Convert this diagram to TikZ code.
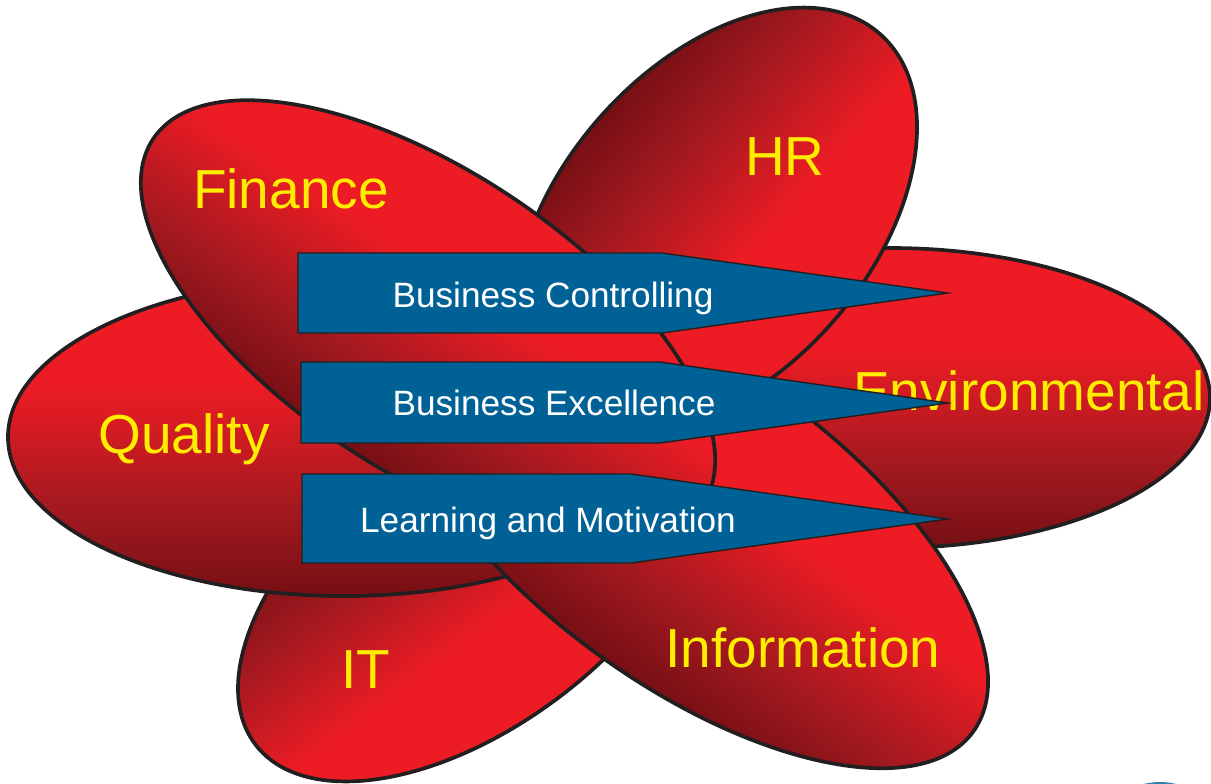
\documentclass[tikz,border=0pt]{standalone}
\usepackage{fontspec}
\setmainfont{Liberation Sans}
\usepackage{tikz}

\definecolor{petalred}{RGB}{237,28,36}
\definecolor{petalmid}{RGB}{160,25,31}
\definecolor{petaldark}{RGB}{118,15,20}
\definecolor{rimgray}{RGB}{35,31,32}
\definecolor{bannerblue}{RGB}{0,97,151}
\definecolor{labelyellow}{RGB}{255,237,0}

\pgfdeclareverticalshading{petalshade}{100bp}{color(0bp)=(petaldark); color(25bp)=(petaldark); color(38bp)=(petalmid); color(58bp)=(petalred); color(100bp)=(petalred)}

\tikzset{
    petal/.style={draw=rimgray, line width=1.85pt, shading=petalshade},
    banner/.style={draw=rimgray, line width=0.7pt, fill=bannerblue, line join=miter},
    label_yellow/.style={text=labelyellow, font=\fontsize{27.5}{30}\selectfont, anchor=base, inner sep=0pt},
    label_white/.style={text=white, font=\fontsize{17.6}{20}\selectfont, anchor=base, inner sep=0pt}
}

\begin{document}
\begin{tikzpicture}[x=0.5pt, y=-0.5pt]
	\useasboundingbox (0,0) rectangle (1211,783);

	\begin{scope}[transform canvas={shift={(472,580)}, rotate=217.2}]
		\shade[petal] (0,0) ellipse (272 and 146);
	\end{scope}
	\begin{scope}[transform canvas={shift={(890,398)}}]
		\shade[petal] (0,0) ellipse (320 and 150);
	\end{scope}
	\begin{scope}[transform canvas={shift={(344,437)}}]
		\shade[petal] (0,0) ellipse (336 and 159);
	\end{scope}
	\begin{scope}[transform canvas={shift={(690,526)}, rotate=-36}]
		\shade[petal] (0,0) ellipse (350 and 158);
	\end{scope}
	\begin{scope}[transform canvas={shift={(716,220)}, rotate=228.6}]
		\shade[petal] (0,0) ellipse (248 and 155);
	\end{scope}
	\begin{scope}[transform canvas={shift={(428,321.5)}, rotate=-33.6}]
		\shade[petal] (0,0) ellipse (330 and 150);
	\end{scope}

	\node[label_yellow] (finance) at (291,208) {Finance};
	\node[label_yellow] (hr) at (785,175) {HR};
	\node[label_yellow] (quality) at (184,453) {Quality};
	\node[label_yellow] (environmental) at (1029,410) {Environmental};
	\node[label_yellow] (information) at (803,667) {Information};
	\node[label_yellow] (it) at (366,688) {IT};

	\draw[banner] (298,253) -- (662,253) -- (948,293) -- (662,333) -- (298,333) -- cycle;
	\draw[banner] (301,362) -- (660,362) -- (948,403) -- (660,443) -- (301,443) -- cycle;
	\draw[banner] (302,474) -- (631,474) -- (948,519) -- (631,563) -- (302,563) -- cycle;

	\node[label_white] (controlling) at (553,307) {Business Controlling};
	\node[label_white] (excellence) at (554,415) {Business Excellence};
	\node[label_white] (learning) at (548,532) {Learning and Motivation};

	\begin{scope}
		\clip (0,0) rectangle (1211,783);
		\fill[bannerblue!80] (1160,814) ellipse (46 and 32);
	\end{scope}
\end{tikzpicture}
\end{document}
